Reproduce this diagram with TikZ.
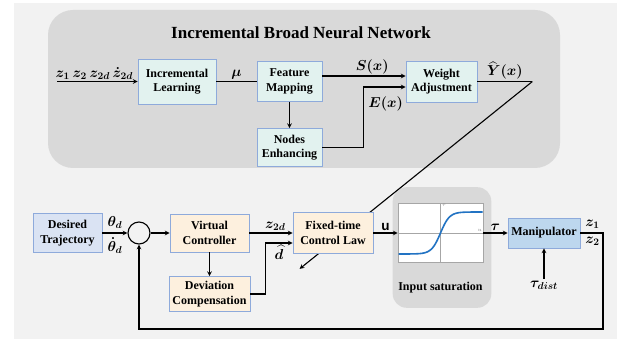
\documentclass[tikz,border=0pt]{standalone}
\usepackage{amsmath,amssymb}
\usepackage{fontspec}
\setmainfont{Liberation Serif}
\setsansfont{Liberation Sans}
\usepackage{xcolor}
\usepackage{tikz}
\usetikzlibrary{arrows,shapes,backgrounds}

\definecolor{bggray}{HTML}{F2F2F2}
\definecolor{panelgray}{HTML}{D9D9D9}
\definecolor{boxedge}{HTML}{8EAADB}
\definecolor{nnfill}{HTML}{E2F2EF}
\definecolor{dtfill}{HTML}{DAE3F3}
\definecolor{ctrlfill}{HTML}{FDF0DE}
\definecolor{manfill}{HTML}{BDD7EE}
\definecolor{curveblue}{HTML}{2273C3}

\tikzset{
  blk/.style={draw=boxedge, line width=0.8pt, align=center, inner sep=2pt,
    font=\fontsize{12}{14.5}\selectfont\bfseries},
  nnblk/.style={blk, fill=nnfill},
  ctrlblk/.style={blk, fill=ctrlfill},
  sig/.style={font=\fontsize{14.5}{16}\selectfont\boldmath, inner sep=1.5pt},
}

\begin{document}
\begin{tikzpicture}[->, >=stealth, x=1pt, y=-1pt, line width=1.1pt, auto, inner sep=2pt]

\useasboundingbox (0,0) rectangle (625,339);

\node[font=\fontsize{17}{20}\selectfont\bfseries] (title) at (301,33) {Incremental Broad Neural Network};

\node[nnblk, minimum width=78pt, minimum height=45pt] (il) at (177,81.5) {Incremental\\Learning};
\node[nnblk, minimum width=65pt, minimum height=40pt] (fm) [node distance=112.5pt, right of=il] {Feature\\Mapping};
\node[nnblk, minimum width=71pt, minimum height=41pt] (wa) [node distance=152pt, right of=fm] {Weight\\Adjustment};
\node[nnblk, minimum width=65pt, minimum height=38pt] (ne) [node distance=66pt, below of=fm] {Nodes\\Enhancing};
\coordinate (in) at (57,81.5);

\node[blk, fill=dtfill, minimum width=69pt, minimum height=39pt] (dt) at (67.5,233) {Desired\\Trajectory};
\node[draw, circle, minimum size=22pt, inner sep=0pt, line width=1.1pt] (sum) [node distance=71.5pt, right of=dt] {};
\node[ctrlblk, minimum width=79pt, minimum height=38pt] (vc) [node distance=70.5pt, right of=sum] {Virtual\\Controller};
\node[ctrlblk, minimum width=81pt, minimum height=35pt] (dc) [node distance=61pt, below of=vc] {Deviation\\Compensation};
\node[ctrlblk, minimum width=80pt, minimum height=41pt] (fl) [node distance=123.5pt, right of=vc] {Fixed-time\\Control Law};
\node[draw=gray!70, fill=white, line width=0.6pt, minimum width=85pt, minimum height=59pt] (sat) [node distance=107.5pt, right of=fl] {};
\node[font=\fontsize{12}{14}\selectfont\bfseries] (satlbl) [node distance=54.5pt, below of=sat] {Input saturation};
\node[blk, fill=manfill, minimum width=72pt, minimum height=30pt] (man) [node distance=103.5pt, right of=sat] {Manipulator};
\node[sig] (tdist) [node distance=52pt, below of=man] {$\boldsymbol{\tau_{dist}}$};
\coordinate (fb) at (603,329);

\draw[-, gray!70, line width=0.6pt] (sat.north) -- (sat.south);
\draw[-, gray!70, line width=0.6pt] (sat.west) -- (sat.east);
\draw[-, curveblue, line width=1.6pt, shift={(sat.center)}] plot[domain=-42:42, samples=60, smooth] (\x, {-21*tanh(\x/9)});
\node[font=\fontsize{4}{4}\selectfont, text=gray, anchor=north west, inner sep=1pt] (tlbl) at (sat.north) {$\tau$};
\node[font=\fontsize{4}{4}\selectfont, text=gray, anchor=south east, inner sep=1pt] (ulbl) at (sat.east) {$u$};

\path
(in) edge node[sig, xshift=-3pt] {$\boldsymbol{z_1\, z_2\, z_{2d}\, \dot{z}_{2d}}$} (il)
(il) edge[-] node[sig] {$\boldsymbol{\mu}$} (fm)
(fm) edge (ne)
([yshift=5.5pt]fm.east) edge node[sig, pos=0.6] {$\boldsymbol{S(x)}$} ([yshift=5.5pt]wa.west)

(dt) edge node[sig, inner sep=4pt] {$\boldsymbol{\theta_d}$} node[sig, swap, inner sep=4pt] {$\boldsymbol{\dot{\theta}_d}$} (sum)
(sum) edge (vc)
(vc) edge (dc)
(vc) edge node[sig, pos=0.6] {$\boldsymbol{z_{2d}}$} (fl)
(fl) edge node[font=\fontsize{13.5}{15}\selectfont\sffamily\bfseries, inner sep=1.5pt] {u} (sat)
(sat) edge node[sig] {$\boldsymbol{\tau}$} (man)
(tdist) edge (man);

\draw[->] (ne.east) -- ++(41pt,0) |- node[sig, pos=0.5, anchor=north west, xshift=3pt, yshift=-8pt] {$\boldsymbol{E(x)}$} ([yshift=-5.5pt]wa.west);
\draw[-] (wa.east) -- node[sig, pos=0.5] {$\boldsymbol{\widehat{Y}(x)}$} ++(55pt,0) coordinate (yc);
\draw[->] (dc.east) -- ++(15pt,0) |- node[sig, pos=0.75, below] {$\boldsymbol{\widehat{d}}$} ([yshift=-10pt]fl.west);
\draw[->] (man.east) node[sig, above right, xshift=3pt, yshift=2pt] {$\boldsymbol{z_1}$} node[sig, below right, xshift=3pt, yshift=-2pt] {$\boldsymbol{z_2}$} -| (fb) -| (sum.south);
\coordinate (dend) at ([shift={(7pt,-15pt)}]fl.south west);

\begin{scope}[on background layer]
\fill[-, bggray] (14,3) rectangle (617,339);
\fill[-, panelgray, rounded corners=25pt] (48,10) rectangle (560,168);
\fill[-, panelgray, rounded corners=14pt] ([shift={(-5pt,16pt)}]sat.north west) rectangle ([shift={(8pt,-45pt)}]sat.south east);
\draw[->, line width=1.1pt] (yc) -- (dend);
\end{scope}

\end{tikzpicture}
\end{document}
